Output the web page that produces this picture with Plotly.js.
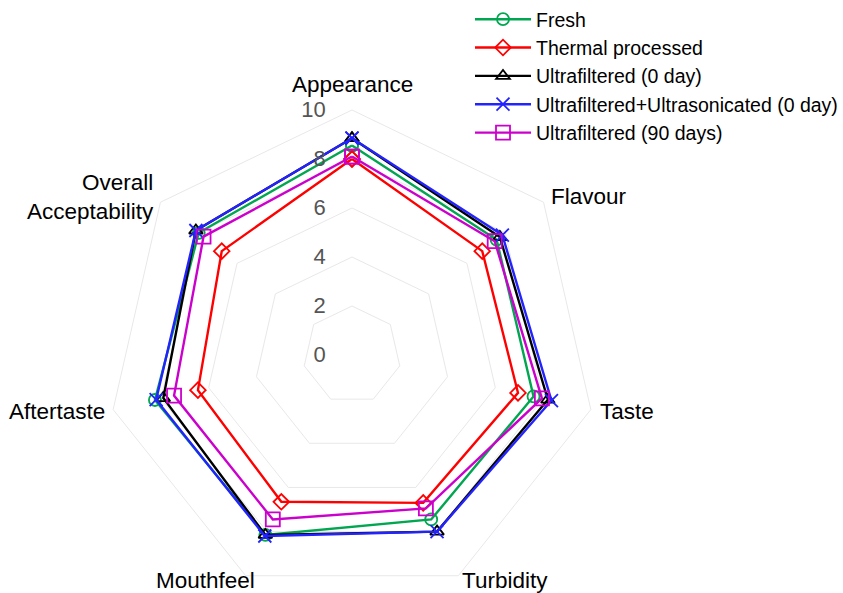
<!DOCTYPE html>
<html>
<head>
<meta charset="utf-8">
<script src="https://cdn.plot.ly/plotly-3.0.1.min.js"></script>
<style>html,body{margin:0;padding:0;background:#fff;overflow:hidden;}#chart{width:843px;height:600px;}</style>
</head>
<body>
<div id="chart"></div>
<script>
const categories = ["Appearance", "Flavour", "Taste", "Turbidity", "Mouthfeel", "Aftertaste", "Overall<br>Acceptability"];
const seriesNames = ["Fresh", "Thermal processed", "Ultrafiltered (0 day)", "Ultrafiltered+Ultrasonicated (0 day)", "Ultrafiltered (90 days)"];
const fresh = [8.55, 7.55, 7.6, 7.45, 8.15, 8.25, 8.0];
const thermal = [8.0, 6.8, 6.95, 6.7, 6.65, 6.45, 6.8];
const uf0 = [8.85, 7.72, 8.2, 8.0, 8.15, 7.9, 8.15];
const ufus0 = [8.85, 7.85, 8.35, 8.0, 8.2, 8.2, 8.15];
const uf90 = [8.1, 7.45, 7.95, 6.95, 7.45, 7.45, 7.75];
const radialTicks = [0, 2, 4, 6, 8, 10];

const values = [fresh, thermal, uf0, ufus0, uf90];
const colors = ["#00a650", "#ff0000", "#000000", "#2323ff", "#cc00cc"];
const symbols = ["circle-open", "diamond-open", "triangle-up-open", "x-thin-open", "square-open"];
const sizes = [12, 12, 12, 13, 14];

const W = 843, H = 600;

const traces = values.map((v, i) => ({
  type: "scatterpolar",
  r: v.concat([v[0]]),
  theta: categories.concat([categories[0]]),
  name: seriesNames[i],
  mode: "lines+markers",
  line: {color: colors[i], width: 2.4},
  marker: {symbol: symbols[i], size: sizes[i], color: colors[i], line: {color: colors[i], width: 1.8}}
}));

// category label placement (pixels in the figure), layout only
const labelPos = [
  {x: 352, y: 85, xanchor: "center", align: "center"},
  {x: 589, y: 196, xanchor: "center", align: "center"},
  {x: 627, y: 411, xanchor: "center", align: "center"},
  {x: 505, y: 580, xanchor: "center", align: "center"},
  {x: 205, y: 580, xanchor: "center", align: "center"},
  {x: 57, y: 411, xanchor: "center", align: "center"},
  {x: 156, y: 197, xanchor: "right", align: "right"}
];
const annotations = categories.map((c, i) => ({
  text: c, xref: "paper", yref: "paper",
  x: labelPos[i].x / W, y: 1 - labelPos[i].y / H,
  xanchor: labelPos[i].xanchor, yanchor: "middle", align: labelPos[i].align,
  showarrow: false,
  font: {size: 22.5, color: "#000", family: "Liberation Sans, Arial, sans-serif"}
}));

const layout = {
  width: W, height: H,
  margin: {l: 0, r: 0, t: 0, b: 0},
  paper_bgcolor: "#fff",
  font: {family: "Liberation Sans, Arial, sans-serif", color: "#000"},
  showlegend: true,
  legend: {
    x: 470 / W, y: 1.0, xanchor: "left", yanchor: "top",
    font: {size: 19.5, color: "#000"},
    itemwidth: 56,
    bgcolor: "rgba(0,0,0,0)"
  },
  annotations: annotations,
  polar: {
    domain: {x: [107 / W, 597 / W], y: [0.0, 490 / H]},
    bgcolor: "#fff",
    gridshape: "linear",
    radialaxis: {
      range: [0, 10],
      tickvals: radialTicks,
      ticktext: radialTicks.map(String),
      angle: 90,
      tickangle: 90,
      side: "counterclockwise",
      showline: false,
      ticks: "outside",
      ticklen: 18,
      tickcolor: "rgba(0,0,0,0)",
      gridcolor: "#e8e8e8",
      tickfont: {size: 22, color: "#555"}
    },
    angularaxis: {
      direction: "clockwise",
      rotation: 90,
      showgrid: false,
      showline: true,
      showticklabels: false,
      linecolor: "#e8e8e8",
      linewidth: 1,
      ticks: ""
    }
  }
};

Plotly.newPlot("chart", traces, layout, {displayModeBar: false});
</script>
</body>
</html>
